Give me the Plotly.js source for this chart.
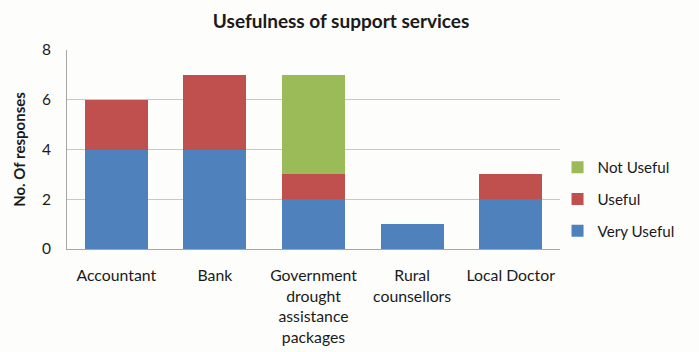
<!DOCTYPE html>
<html><head><meta charset="utf-8">
<script src="https://cdn.plot.ly/plotly-3.0.1.min.js"></script>
<style>html,body{margin:0;padding:0;background:#fdfdfb;}</style>
</head><body>
<div id="chart" style="width:699px;height:352px;"></div>
<script>
const categories = ["Accountant", "Bank", "Government<br>drought<br>assistance<br>packages", "Rural<br>counsellors", "Local Doctor"];
const veryUseful = [4, 4, 2, 1, 2];
const useful = [2, 3, 1, 0, 1];
const notUseful = [0, 0, 4, 0, 0];
const yTicks = [0, 2, 4, 6, 8];

const fontFam = "Lato, 'Open Sans', sans-serif";
const traces = [
  {name: "Very Useful", y: veryUseful, color: "#4F81BD", g: "c", r: 3},
  {name: "Useful", y: useful, color: "#C0504D", g: "b", r: 2},
  {name: "Not Useful", y: notUseful, color: "#9BBB59", g: "a", r: 1}
].map(t => ({
  type: "bar", x: categories, y: t.y, name: t.name, legendgroup: t.g, legendrank: t.r,
  marker: {color: t.color}, hoverinfo: "none"
}));

const layout = {
  width: 699, height: 352,
  paper_bgcolor: "#fdfdfb", plot_bgcolor: "#fdfdfb",
  margin: {l: 67, r: 139, t: 50, b: 103},
  barmode: "stack", bargap: 0.36,
  font: {family: fontFam, size: 15.5, color: "#1a1a1a"},
  title: {text: "<b>Usefulness of support services</b>", x: 0.488, xanchor: "center", y: 0.94, yanchor: "middle",
          font: {family: fontFam, size: 19, color: "#1a1a1a"}},
  xaxis: {showgrid: false, showline: true, linecolor: "#a6a6a6", ticks: "", tickfont: {size: 15.8},
          ticklabelstandoff: 12, fixedrange: true},
  yaxis: {range: [0, 8], tickvals: yTicks, showgrid: true, gridcolor: "#c8c8c8", showline: true,
          linecolor: "#a6a6a6", zeroline: false, ticks: "", ticklabelstandoff: 12,
          tickfont: {size: 15.5},
          title: {text: "<b>No. Of responses</b>", font: {size: 15}, standoff: 12}},
  showlegend: true,
  legend: {x: 0.995, xanchor: "left", y: 0.25, yanchor: "middle", traceorder: "grouped",
           tracegroupgap: 9, font: {size: 15.2}, bgcolor: "rgba(0,0,0,0)"}
};
Plotly.newPlot("chart", traces, layout, {displayModeBar: false, staticPlot: true});
</script>
</body></html>
